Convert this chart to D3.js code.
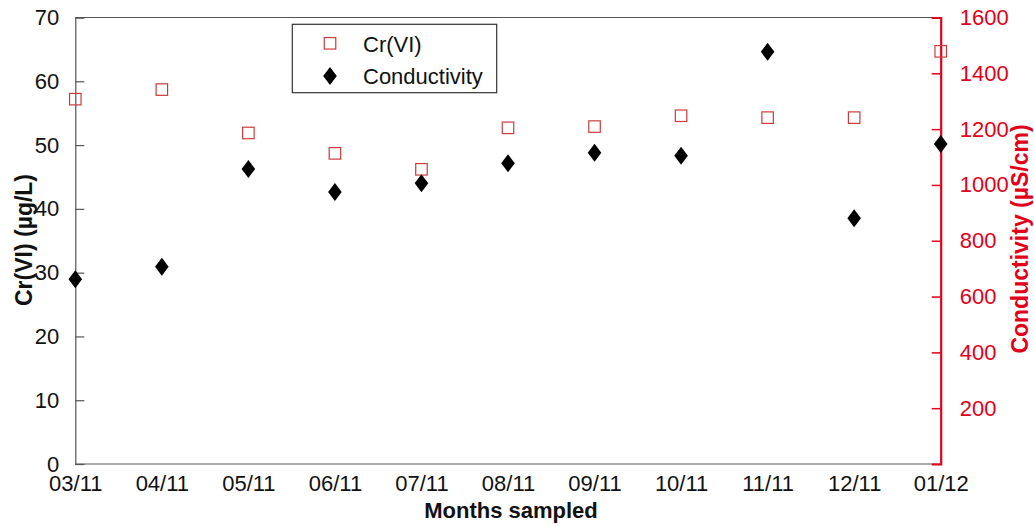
<!DOCTYPE html>
<html>
<head>
<meta charset="utf-8">
<script src="https://cdn.jsdelivr.net/npm/d3@7"></script>
<style>
  html, body { margin: 0; padding: 0; background: #fff; }
  svg { display: block; font-family: "Liberation Sans", Arial, Helvetica, sans-serif; }
</style>
</head>
<body>
<svg id="chart" width="1034" height="527"></svg>
<script>
// Sampling months
const months = ["03/11", "04/11", "05/11", "06/11", "07/11", "08/11", "09/11", "10/11", "11/11", "12/11", "01/12"];
// Cr(VI) concentration, µg/L (left axis)
const crVI = [57.2, 58.7, 51.9, 48.7, 46.2, 52.7, 52.9, 54.6, 54.3, 54.3, 64.7];
// Conductivity, µS/cm (right axis)
const conductivity = [662, 707, 1057, 975, 1006, 1078, 1115, 1105, 1477, 881, 1147];
// Axis ticks
const leftTicks = [0, 10, 20, 30, 40, 50, 60, 70];
const rightTicks = [200, 400, 600, 800, 1000, 1200, 1400, 1600];

const RED = "#e2001a";
const SQUARE_RED = "#cc3b3b";
const GREY = "#555";

const svg = d3.select("#chart");
const plotLeft = 75.3, plotRight = 940.7, plotTop = 17.5, plotBottom = 464;

const x = d3.scalePoint().domain(months).range([plotLeft, plotRight]);
const yL = d3.scaleLinear().domain([0, 70]).range([plotBottom, plotTop]);
const yR = d3.scaleLinear().domain([0, 1600]).range([plotBottom, plotTop]);

// frame: top and bottom lines
svg.append("line").attr("x1", plotLeft).attr("x2", plotRight).attr("y1", plotTop).attr("y2", plotTop)
  .attr("stroke", GREY).attr("stroke-width", 1.2);
svg.append("line").attr("x1", plotLeft).attr("x2", plotRight).attr("y1", plotBottom).attr("y2", plotBottom)
  .attr("stroke", GREY).attr("stroke-width", 1.2);

// left axis, ticks pointing inward
const gL = svg.append("g").attr("transform", `translate(${plotLeft},0)`)
  .call(d3.axisLeft(yL).tickValues(leftTicks).tickSize(-9).tickPadding(16).tickFormat(d3.format("d")));
gL.select(".domain").attr("stroke", GREY).attr("stroke-width", 1.2);
gL.selectAll(".tick line").attr("stroke", GREY).attr("stroke-width", 1.2);
gL.selectAll(".tick text").attr("font-size", 22).attr("fill", "#111")
  .attr("font-family", "Liberation Sans, Arial, sans-serif");

// right axis (conductivity), red, ticks pointing inward
const gR = svg.append("g").attr("transform", `translate(${plotRight},0)`)
  .call(d3.axisRight(yR).tickValues(rightTicks).tickSize(-9).tickPadding(19).tickFormat(d3.format("d")));
gR.select(".domain").attr("stroke", RED).attr("stroke-width", 2.2);
gR.selectAll(".tick line").attr("stroke", RED).attr("stroke-width", 1.5);
gR.selectAll(".tick text").attr("font-size", 22).attr("fill", RED)
  .attr("font-family", "Liberation Sans, Arial, sans-serif");

// bottom axis labels (no tick marks)
const gB = svg.append("g").attr("transform", `translate(0,${plotBottom})`)
  .call(d3.axisBottom(x).tickSize(0).tickPadding(11));
gB.select(".domain").remove();
gB.selectAll(".tick text").attr("font-size", 22).attr("fill", "#111")
  .attr("font-family", "Liberation Sans, Arial, sans-serif");

// axis titles
svg.append("text").attr("x", 511).attr("y", 518).attr("text-anchor", "middle")
  .attr("font-size", 22).attr("font-weight", "bold").attr("fill", "#111").text("Months sampled");
svg.append("text").attr("transform", "translate(32,240) rotate(-90)").attr("text-anchor", "middle")
  .attr("font-size", 23).attr("font-weight", "bold").attr("fill", "#111").text("Cr(VI) (µg/L)");
svg.append("text").attr("transform", "translate(1028,239) rotate(-90)").attr("text-anchor", "middle")
  .attr("font-size", 23).attr("font-weight", "bold").attr("fill", RED).text("Conductivity (µS/cm)");

// marker shapes
const sq = 11.5;
const diamondPath = "M0,-9L6.8,0L0,9L-6.8,0Z";

// Cr(VI) open squares
svg.append("g").selectAll("rect").data(crVI).join("rect")
  .attr("x", (d, i) => x(months[i]) - sq / 2)
  .attr("y", d => yL(d) - sq / 2)
  .attr("width", sq).attr("height", sq)
  .attr("fill", "none").attr("stroke", SQUARE_RED).attr("stroke-width", 1.2);

// conductivity filled diamonds
svg.append("g").selectAll("path").data(conductivity).join("path")
  .attr("d", diamondPath)
  .attr("transform", (d, i) => `translate(${x(months[i])},${yR(d)})`)
  .attr("fill", "#000");

// legend
const lg = svg.append("g");
lg.append("rect").attr("x", 292.3).attr("y", 24.3).attr("width", 204.4).attr("height", 68.4)
  .attr("fill", "#fff").attr("stroke", "#333").attr("stroke-width", 1.2);
lg.append("rect").attr("x", 330 - sq / 2).attr("y", 43.3 - sq / 2).attr("width", sq).attr("height", sq)
  .attr("fill", "none").attr("stroke", SQUARE_RED).attr("stroke-width", 1.2);
lg.append("path").attr("d", diamondPath).attr("transform", "translate(330,76)").attr("fill", "#000");
lg.append("text").attr("x", 363).attr("y", 51.5).attr("font-size", 22).attr("fill", "#111").text("Cr(VI)");
lg.append("text").attr("x", 363).attr("y", 84).attr("font-size", 22).attr("fill", "#111").text("Conductivity");
</script>
</body>
</html>
